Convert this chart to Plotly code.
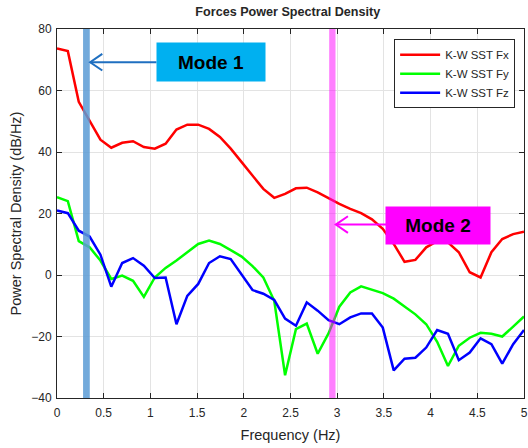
import plotly.graph_objects as go

# ---- data ----
freq = [0.000, 0.116, 0.233, 0.349, 0.465, 0.581, 0.698, 0.814, 0.930, 1.047,
        1.163, 1.279, 1.395, 1.512, 1.628, 1.744, 1.860, 1.977, 2.093, 2.209,
        2.326, 2.442, 2.558, 2.674, 2.791, 2.907, 3.023, 3.140, 3.256, 3.372,
        3.488, 3.605, 3.721, 3.837, 3.953, 4.070, 4.186, 4.302, 4.419, 4.535,
        4.651, 4.767, 4.884, 5.000]

psd_fx = [73.7, 72.8, 56.3, 50.3, 44.0, 41.4, 43.0, 43.5, 41.6, 41.1,
          42.7, 47.3, 48.9, 48.9, 47.5, 44.9, 41.1, 36.7, 32.4, 28.0,
          25.1, 26.4, 28.2, 28.4, 26.9, 25.0, 23.1, 21.5, 20.1, 18.1,
          15.0, 10.1, 4.3, 4.9, 9.0, 11.0, 10.6, 7.4, 0.9, -0.8,
          7.4, 11.7, 13.3, 14.1]

psd_fy = [25.3, 24.0, 11.0, 9.0, 4.7, -1.3, -0.2, -1.9, -7.1, -0.8,
          2.3, 4.7, 7.4, 10.1, 11.2, 10.1, 8.1, 6.0, 2.9, -0.8,
          -8.4, -32.6, -17.6, -15.8, -25.6, -19.0, -10.3, -5.7, -3.7, -4.7,
          -5.9, -7.7, -10.3, -12.8, -16.0, -21.7, -29.6, -23.0, -20.4, -18.8,
          -19.1, -20.0, -16.8, -13.5]

psd_fz = [21.0, 20.1, 14.4, 12.5, 6.6, -3.8, 3.9, 5.5, 3.0, -1.0,
          -0.8, -16.0, -6.8, -2.9, 3.9, 6.1, 5.2, 0.2, -4.9, -6.1,
          -8.1, -14.2, -16.5, -8.9, -11.6, -14.7, -16.0, -13.8, -12.5, -12.5,
          -17.1, -31.0, -27.2, -26.9, -23.6, -17.9, -19.1, -27.7, -25.2, -20.6,
          -22.5, -28.8, -22.5, -17.9]

series_names = ["K-W SST Fx", "K-W SST Fy", "K-W SST Fz"]
series_colors = ["#ff0000", "#00ff00", "#0000ff"]

x_ticks = [0, 0.5, 1, 1.5, 2, 2.5, 3, 3.5, 4, 4.5, 5]
x_tick_labels = ["0", "0.5", "1", "1.5", "2", "2.5", "3", "3.5", "4", "4.5", "5"]
y_ticks = [-40, -20, 0, 20, 40, 60, 80]

mode_labels = ["Mode 1", "Mode 2"]
mode_freqs = [0.315, 2.948]

FONT = "Arial, 'Liberation Sans', sans-serif"

fig = go.Figure()
for name, vals, col in zip(series_names, [psd_fx, psd_fy, psd_fz], series_colors):
    fig.add_trace(go.Scatter(x=freq, y=vals, mode="lines", name=name,
                             line=dict(color=col, width=2.5)))

# mode bands
band_styles = [("rgba(91,155,213,0.85)", 0.036), ("rgba(255,0,255,0.5)", 0.034)]
for f, (c, hw) in zip(mode_freqs, band_styles):
    fig.add_shape(type="rect", xref="x", yref="paper", x0=f - hw, x1=f + hw,
                  y0=0, y1=1, fillcolor=c, line=dict(width=0), layer="above")

# label boxes and arrows
boxes = [
    dict(x=1.645, y=69.2, bg="#00b0f0", w=108, h=38, arrow_from=1.065, arrow_to=0.355, ay=69.2, ac="#1f6fc0"),
    dict(x=4.08, y=16.2, bg="#ff00ff", w=104, h=37, arrow_from=3.523, arrow_to=2.985, ay=16.4, ac="#ff00ff"),
]
for lab, b in zip(mode_labels, boxes):
    fig.add_annotation(x=b["x"], y=b["y"], xref="x", yref="y", text="<b>" + lab + "</b>",
                       showarrow=False, bgcolor=b["bg"], width=b["w"], height=b["h"],
                       borderpad=0, font=dict(family=FONT, size=19, color="black"))
    fig.add_shape(type="line", xref="x", yref="y", x0=b["arrow_from"], x1=b["arrow_to"],
                  y0=b["ay"], y1=b["ay"], line=dict(color=b["ac"], width=2), layer="above")
    dx, dy = 0.13, 2.7
    fig.add_shape(type="path", xref="x", yref="y",
                  path=f"M {b['arrow_to']+dx},{b['ay']+dy} L {b['arrow_to']},{b['ay']} L {b['arrow_to']+dx},{b['ay']-dy}",
                  line=dict(color=b["ac"], width=2), layer="above")

axis_common = dict(showline=True, linecolor="#262626", linewidth=1, mirror="ticks",
                   ticks="inside", ticklen=5, tickcolor="#262626", automargin=False,
                   showgrid=True, gridcolor="#e3e3e3", gridwidth=1, zeroline=False,
                   tickfont=dict(family=FONT, size=12, color="#262626"),
                   title_font=dict(family=FONT, size=14.5, color="#262626"))

fig.update_xaxes(range=[0, 5], tickvals=x_ticks, ticktext=x_tick_labels,
                 ticklabelstandoff=4,
                 title_text="Frequency (Hz)", title_standoff=10, **axis_common)
fig.update_yaxes(range=[-40, 80], tickvals=y_ticks, ticklabelstandoff=2,
                 title_text="Power Spectral Density (dB/Hz)", title_standoff=6, **axis_common)

fig.update_layout(
    width=528, height=448,
    margin=dict(l=57, r=4, t=29, b=50),
    paper_bgcolor="white", plot_bgcolor="white",
    title=dict(text="<b>Forces Power Spectral Density</b>", x=0.545, xanchor="center",
               y=1 - 12 / 448, yanchor="middle", yref="container",
               font=dict(family=FONT, size=12.6, color="#262626")),
    legend=dict(x=0.981, y=0.972, xanchor="right", yanchor="top",
                bgcolor="white", bordercolor="#262626", borderwidth=1,
                font=dict(family=FONT, size=11.5, color="#262626"),
                tracegroupgap=0, itemwidth=40),
    showlegend=True,
)

fig.write_html("out.html")
